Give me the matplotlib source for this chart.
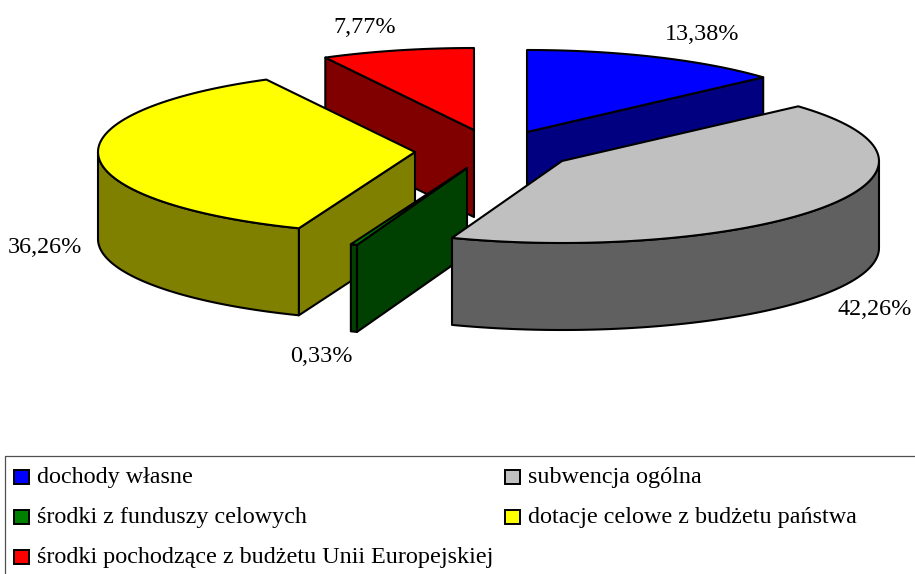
import numpy as np
import matplotlib

matplotlib.use("Agg")
import matplotlib.pyplot as plt
from matplotlib.patches import Polygon, Rectangle

W, H = 915, 574

categories = [
    "dochody własne",
    "subwencja ogólna",
    "środki z funduszy celowych",
    "dotacje celowe z budżetu państwa",
    "środki pochodzące z budżetu Unii Europejskiej",
]
values = [13.38, 42.26, 0.33, 36.26, 7.77]
value_labels = ["13,38%", "42,26%", "0,33%", "36,26%", "7,77%"]

top_colors = ["#0000FF", "#C0C0C0", "#008000", "#FFFF00", "#FF0000"]
side_colors = ["#000080", "#606060", "#004000", "#808000", "#800000"]

# apex of each exploded slice in pixels
apex_x = [527, 562, 467, 415, 474]
apex_y = [132, 161, 168, 152, 130]
label_x = [702, 875, 321, 45, 365]
label_y = [40, 315, 362, 253, 33]
draw_order = [4, 0, 3, 2, 1]

RX, RY, DEPTH = 317, 82, 87
LW = 1.5
FONT = ["Liberation Serif", "DejaVu Serif"]
FONT_SIZE = 17.4


def ring(cx, cy, a0, a1, n=80):
    t = np.radians(np.linspace(a0, a1, n))
    return np.column_stack([cx + RX * np.sin(t), cy - RY * np.cos(t)])


def poly(ax, pts, color):
    ax.add_patch(Polygon(pts, closed=True, facecolor=color, edgecolor="black", linewidth=LW, joinstyle="round"))


def draw_slice(ax, i, a0, a1):
    cx, cy = apex_x[i], apex_y[i]
    apex = np.array([cx, cy])
    down = np.array([0, DEPTH])
    # radial cut faces, only when they look towards the viewer
    if np.sin(np.radians(a0)) < -1e-6:
        p = ring(cx, cy, a0, a0, 1)[0]
        poly(ax, [apex, p, p + down, apex + down], side_colors[i])
    if np.sin(np.radians(a1)) > 1e-6:
        p = ring(cx, cy, a1, a1, 1)[0]
        poly(ax, [apex, p, p + down, apex + down], side_colors[i])
    # outer rim, front part of the ellipse only
    lo, hi = max(a0, 90), min(a1, 270)
    if hi > lo:
        arc = ring(cx, cy, lo, hi)
        poly(ax, np.vstack([arc, (arc + down)[::-1]]), side_colors[i])
    poly(ax, np.vstack([apex, ring(cx, cy, a0, a1)]), top_colors[i])


fig = plt.figure(figsize=(W / 100, H / 100), dpi=100)
ax = fig.add_axes([0, 0, 1, 1])
ax.set_xlim(0, W)
ax.set_ylim(H, 0)
ax.axis("off")

edges = np.concatenate([[0], np.cumsum(values)]) / np.sum(values) * 360
for i in draw_order:
    draw_slice(ax, i, edges[i], edges[i + 1])

for i, txt in enumerate(value_labels):
    ax.text(label_x[i], label_y[i], txt, family=FONT, fontsize=FONT_SIZE, ha="center", va="baseline", color="black")

# legend frame runs off the right and bottom of the picture
ax.plot([5, 5, W + 5], [H + 5, 456, 456], color="#505050", linewidth=0.9, clip_on=True)

legend_cols = [14, 505, 14, 505, 14]
legend_rows = [476.5, 476.5, 516.5, 516.5, 556.5]
for i, name in enumerate(categories):
    ax.add_patch(Rectangle((legend_cols[i], legend_rows[i] - 7), 14.5, 14, facecolor=top_colors[i], edgecolor="black", linewidth=1.4))
    ax.text(legend_cols[i] + 23, legend_rows[i] + 6.5, name, family=FONT, fontsize=FONT_SIZE, ha="left", va="baseline", color="black")

fig.savefig("out.png", dpi=100)
